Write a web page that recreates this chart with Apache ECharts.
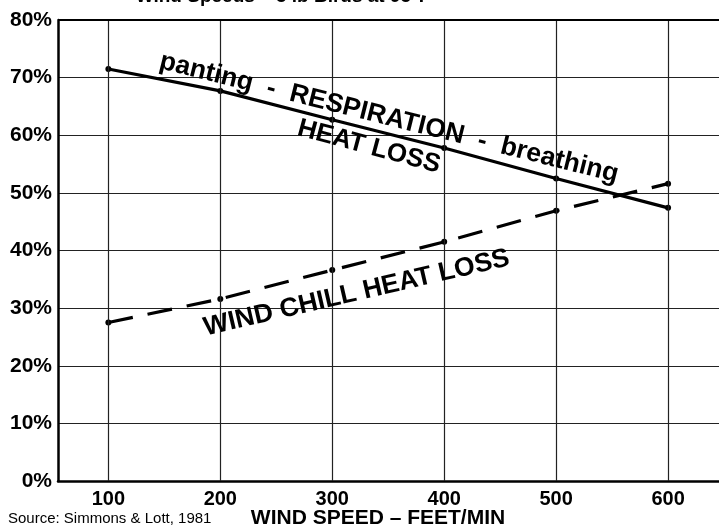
<!DOCTYPE html>
<html>
<head>
<meta charset="utf-8">
<script src="https://cdn.jsdelivr.net/npm/echarts@6/dist/echarts.min.js"></script>
<style>
html,body{margin:0;padding:0;background:#fff;}
#chart{width:719px;height:527px;}
</style>
</head>
<body>
<div id="chart"></div>
<script>
// ---- data ----
const windSpeeds = [100, 200, 300, 400, 500, 600];
const respirationHeatLoss = [71.5, 67.7, 62.7, 57.8, 52.5, 47.4];
const windChillHeatLoss = [27.5, 31.6, 36.6, 41.5, 46.9, 51.6];
const yTicks = [0, 10, 20, 30, 40, 50, 60, 70, 80];
const xTickLabels = windSpeeds;
const titleText = 'Wind Speeds \u2013 5 lb Birds at 95\u00B0F';
const xAxisName = 'WIND SPEED \u2013 FEET/MIN';
const sourceText = 'Source: Simmons & Lott, 1981';
// annotation texts with anchor in data coords
const annoTexts = ['panting  -  RESPIRATION  -  breathing', 'HEAT LOSS', 'WIND CHILL HEAT LOSS'];
const annoX = [350.7, 332.8, 321.8];
const annoY = [63.0, 58.0, 32.6];
const annoAngle = [-14, -15, 13];
const annoSize = [26.5, 26, 26.5];

const FONT = '"Liberation Sans", Arial, Helvetica, sans-serif';
const chart = echarts.init(document.getElementById('chart'), null, {renderer: 'canvas'});

const option = {
  animation: false,
  backgroundColor: '#fff',
  grid: {left: 58, right: 0, top: 20, bottom: 46, containLabel: false},
  xAxis: {
    type: 'value', min: 55, max: 645.5,
    axisLine: {show: true, onZero: false, lineStyle: {color: '#000', width: 2.5}},
    axisTick: {show: false},
    splitLine: {show: false},
    axisLabel: {
      customValues: xTickLabels,
      color: '#000', fontSize: 20, fontWeight: 'bold', fontFamily: FONT, margin: 8
    }
  },
  yAxis: {
    type: 'value', min: yTicks[0], max: yTicks[yTicks.length - 1], interval: 10,
    axisLine: {show: true, lineStyle: {color: '#000', width: 2.5}},
    axisTick: {show: false},
    splitLine: {show: true, lineStyle: {color: '#222', width: 1.2}},
    axisLabel: {
      formatter: '{value}%', color: '#000', fontSize: 21, fontWeight: 'bold',
      fontFamily: FONT, margin: 6
    }
  },
  series: [
    {
      type: 'line', data: [], z: 1, silent: true,
      markLine: {
        silent: true, symbol: ['none', 'none'], label: {show: false},
        lineStyle: {type: 'solid', color: '#222', width: 1.2},
        data: windSpeeds.map(v => ({xAxis: v})).concat([{yAxis: yTicks[yTicks.length - 1], lineStyle: {color: '#000', width: 2.2}}])
      }
    },
    {
      type: 'line', z: 3,
      data: windSpeeds.map((x, i) => [x, respirationHeatLoss[i]]),
      symbol: 'circle', symbolSize: 6, showSymbol: true,
      itemStyle: {color: '#000'},
      lineStyle: {color: '#000', width: 3.2}
    },
    {
      type: 'line', z: 3,
      data: windSpeeds.map((x, i) => [x, windChillHeatLoss[i]]),
      symbol: 'circle', symbolSize: 6, showSymbol: true,
      itemStyle: {color: '#000'},
      lineStyle: {color: '#000', width: 3.2, type: [25, 15]}
    }
  ]
};
chart.setOption(option);

const graphics = [];
annoTexts.forEach((t, i) => {
  const p = chart.convertToPixel({gridIndex: 0}, [annoX[i], annoY[i]]);
  graphics.push({
    type: 'text', x: p[0], y: p[1], rotation: annoAngle[i] * Math.PI / 180, z: 10,
    style: {text: t, fill: '#000', font: 'bold ' + annoSize[i] + 'px ' + FONT, align: 'center', verticalAlign: 'middle'}
  });
});
graphics.push({
  type: 'text', x: 283, y: 6, z: 10,
  style: {text: titleText, fill: '#000', font: 'bold 19px ' + FONT, align: 'center', verticalAlign: 'bottom'}
});
graphics.push({
  type: 'text', x: 378, y: 518, z: 10,
  style: {text: xAxisName, fill: '#000', font: 'bold 21px ' + FONT, align: 'center', verticalAlign: 'middle'}
});
graphics.push({
  type: 'text', x: 8, y: 519, z: 10,
  style: {text: sourceText, fill: '#000', font: '15px ' + FONT, align: 'left', verticalAlign: 'middle'}
});
chart.setOption({graphic: graphics});
</script>
</body>
</html>
